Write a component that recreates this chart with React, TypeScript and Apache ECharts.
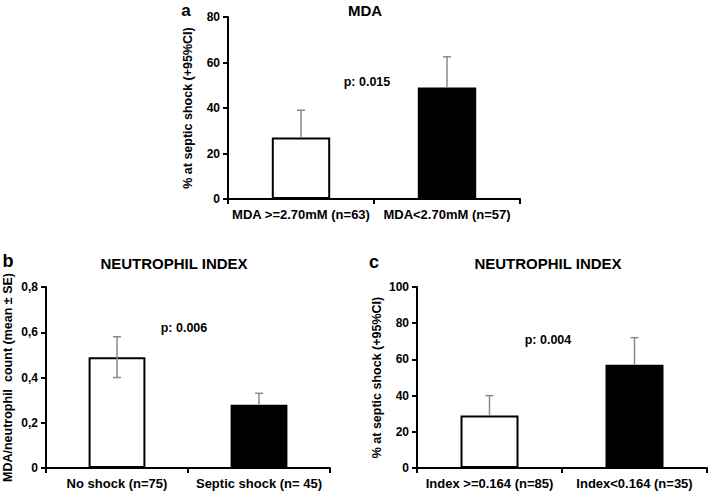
import React, { useEffect, useRef } from "react";
import * as echarts from "echarts";

const catsA = ["MDA >=2.70mM (n=63)", "MDA<2.70mM (n=57)"];
const valsA = [27, 49];
const errA = [[27, 39], [49, 62.5]];

const catsB = ["No shock (n=75)", "Septic shock (n= 45)"];
const valsB = [0.49, 0.28];
const errB = [[0.4, 0.58], [0.28, 0.33]];

const catsC = ["Index >=0.164 (n=85)", "Index<0.164 (n=35)"];
const valsC = [29, 57];
const errC = [[29, 40], [57, 72]];

const barColors = ["#ffffff", "#000000"];
const FONT = "Liberation Sans, Arial, sans-serif";

export default function App() {
  const ref = useRef<HTMLDivElement>(null);
  useEffect(() => {
    const chart = echarts.init(ref.current!, null, { renderer: "svg" });
    const grids = [
      { left: 228, width: 292, top: 17, height: 182 },
      { left: 42, width: 288, top: 287, height: 181 },
      { left: 417, width: 290, top: 287, height: 181 },
    ];
    const cats = [catsA, catsB, catsC];
    const vals = [valsA, valsB, valsC];
    const errs = [errA, errB, errC];
    const yCfg = [
      { max: 80, interval: 20, name: "% at septic shock (+95%CI)", fmt: (v: number) => String(v) },
      { max: 0.8, interval: 0.2, name: "MDA/neutrophil  count (mean ± SE)", fmt: (v: number) => (v === 0 ? "0" : v.toFixed(1).replace(".", ",")) },
      { max: 100, interval: 20, name: "% at septic shock (+95%CI)", fmt: (v: number) => String(v) },
    ];
    const axisLine = { show: true, lineStyle: { color: "#000", width: 2 } };
    const labelStyle = { color: "#000", fontWeight: "bold" as const, fontFamily: FONT };
    const xAxis = cats.map((c, i) => ({
      type: "category",
      gridIndex: i,
      data: c,
      axisLine,
      axisTick: { show: true, length: 5, lineStyle: { color: "#000", width: 2 } },
      axisLabel: { ...labelStyle, fontSize: 13, margin: 9, interval: 0 },
    }));
    const yAxis = yCfg.map((y, i) => ({
      type: "value",
      gridIndex: i,
      min: 0,
      max: y.max,
      interval: y.interval,
      name: y.name,
      nameLocation: "middle",
      nameGap: i === 1 ? 32 : 34,
      nameTextStyle: { ...labelStyle, fontSize: 12.5 },
      splitLine: { show: false },
      axisLine,
      axisTick: { show: true, length: 5, lineStyle: { color: "#000", width: 2 } },
      axisLabel: { ...labelStyle, fontSize: 12, margin: 8, formatter: y.fmt },
    }));
    const series: any[] = [];
    vals.forEach((v, i) => {
      series.push({
        type: "bar",
        xAxisIndex: i,
        yAxisIndex: i,
        barWidth: "40%",
        data: v.map((d, j) => ({
          value: d,
          itemStyle: { color: barColors[j], borderColor: "#000", borderWidth: 2 },
        })),
        z: 2,
      });
      series.push({
        type: "custom",
        xAxisIndex: i,
        yAxisIndex: i,
        z: 3,
        data: errs[i].map((e, j) => [j, e[0], e[1], v[j]]),
        renderItem: (params: any, api: any) => {
          const x = api.value(0);
          const lo = api.coord([x, api.value(1)]);
          const hi = api.coord([x, api.value(2)]);
          const hasLow = api.value(1) < api.value(3);
          const cap = 4;
          const st = { stroke: "#8a8a8a", lineWidth: 1.5 };
          const children: any[] = [
            { type: "line", shape: { x1: lo[0], y1: lo[1], x2: hi[0], y2: hi[1] }, style: st },
            { type: "line", shape: { x1: hi[0] - cap, y1: hi[1], x2: hi[0] + cap, y2: hi[1] }, style: st },
          ];
          if (hasLow) children.push({ type: "line", shape: { x1: lo[0] - cap, y1: lo[1], x2: lo[0] + cap, y2: lo[1] }, style: st });
          return { type: "group", children };
        },
      });
    });
    const txt = (x: number, y: number, text: string, size: number, align = "center") => ({
      type: "text",
      x,
      y,
      style: { text, fill: "#000", font: `bold ${size}px ${FONT}`, textAlign: align, textVerticalAlign: "middle" },
    });
    chart.setOption({
      animation: false,
      backgroundColor: "#fff",
      grid: grids,
      xAxis,
      yAxis,
      series,
      graphic: [
        txt(186, 10, "a", 17),
        txt(365, 10, "MDA", 15),
        txt(367, 82, "p: 0.015", 12.5),
        txt(8, 261, "b", 18),
        txt(174, 263, "NEUTROPHIL INDEX", 15),
        txt(184, 328, "p: 0.006", 12.5),
        txt(374, 262, "c", 18),
        txt(548, 263, "NEUTROPHIL INDEX", 15),
        txt(548, 340, "p: 0.004", 12.5),
      ],
    });
    return () => chart.dispose();
  }, []);
  return <div ref={ref} style={{ width: 709, height: 491, position: "absolute", left: 0, top: 0 }} />;
}
